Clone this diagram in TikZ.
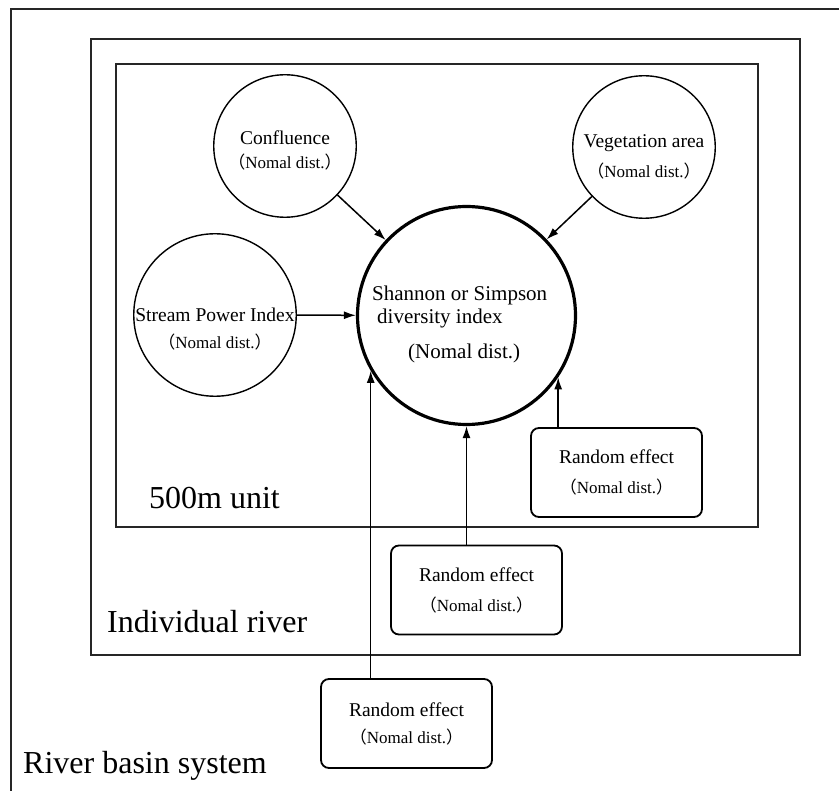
\documentclass[tikz,border=0pt]{standalone}
\usepackage{fontspec}
\setmainfont{Liberation Serif}
\newfontfamily\cjk{Noto Sans CJK JP}
\usetikzlibrary{arrows.meta}

\newcommand{\titre}{\fontsize{19.5}{30}\selectfont}
\newcommand{\petit}{\fontsize{17}{30}\selectfont}
\newcommand{\grand}{\fontsize{21}{23}\selectfont}
\newcommand{\niveau}{\fontsize{32}{36}\selectfont}
\newcommand{\nomal}{{\cjk （}Nomal dist.{\cjk ）}}

\begin{document}
\begin{tikzpicture}[x=1pt, y=-1pt,
	cadre/.style={line width=2pt, draw=black!85},
	rond/.style={circle, draw, line width=1.4pt, inner sep=0pt},
	txt/.style={align=center, inner sep=0pt, font=\titre},
	boite/.style={rectangle, draw, rounded corners=8pt, line width=1.8pt, minimum width=171pt, minimum height=89pt, align=center, font=\titre},
	niv/.style={anchor=base west, inner sep=0pt, font=\niveau},
	fleche/.style={-{Latex[length=12pt,width=8pt]}, line width=1.5pt}]

%%%%%%%%%%%%%%%%%%%%%%
%%%	    Cadres      %%%
%%%%%%%%%%%%%%%%%%%%%%

\useasboundingbox (0,0) rectangle (839,791);

\draw[cadre] (11,800) -- (11,9) -- (850,9);
\draw[cadre] (91,39) rectangle (800,655);
\draw[cadre] (116,64) rectangle (758,527);

\node[niv] (unit) at (149,509) {500m unit};
\node[niv] (river) at (107,633) {Individual river};
\node[niv] (basin) at (23,773) {River basin system};

%%%%%%%%%%%%%%%%%%%%%%
%%%	    Cercles     %%%
%%%%%%%%%%%%%%%%%%%%%%

\node[rond, minimum size=142.5pt, label={[txt, yshift=-4pt]center:Confluence\\[-6pt]{\petit\nomal}}] (conf) at (285,146) {};
\node[rond, minimum size=142.5pt, label={[txt, yshift=-10pt]center:Vegetation area\\{\petit\nomal}}] (veg) at (644,147) {};
\node[rond, minimum size=162.5pt, label={[txt, yshift=-14pt]center:Stream Power Index\\[-3pt]{\petit\nomal}}] (spi) at (215,315) {};

\node[rond, line width=3.2pt, minimum size=218pt] (main) at (466.5,315.5) {};
\node[anchor=north west, align=left, inner sep=0pt, font=\grand] (maintxt) at (372,286) {Shannon or Simpson\\\hspace{5pt}diversity index\\[12pt]\hspace{36pt}(Nomal dist.)};

%%%%%%%%%%%%%%%%%%%%%%
%%%	    Boites      %%%
%%%%%%%%%%%%%%%%%%%%%%

\node[boite] (re3) at (616.5,472.5) {Random effect\\{\petit\nomal}};
\node[boite] (re2) at (476.5,590) {Random effect\\{\petit\nomal}};
\node[boite] (re1) at (406.5,723.5) {Random effect\\[-3pt]{\petit\nomal}};

%%%%%%%%%%%%%%%%%%%%%%
%%%	    Fleches     %%%
%%%%%%%%%%%%%%%%%%%%%%

\draw[fleche] (conf) -- (main);
\draw[fleche] (veg) -- (main);
\draw[fleche] (spi) -- (main);
\draw[fleche] (re1.north -| main.210) -- (main.210);
\draw[fleche] (re2.north -| main.south) -- (main.south);
\draw[fleche] (re3.north -| main.-34) -- (main.-34);

\end{tikzpicture}
\end{document}
